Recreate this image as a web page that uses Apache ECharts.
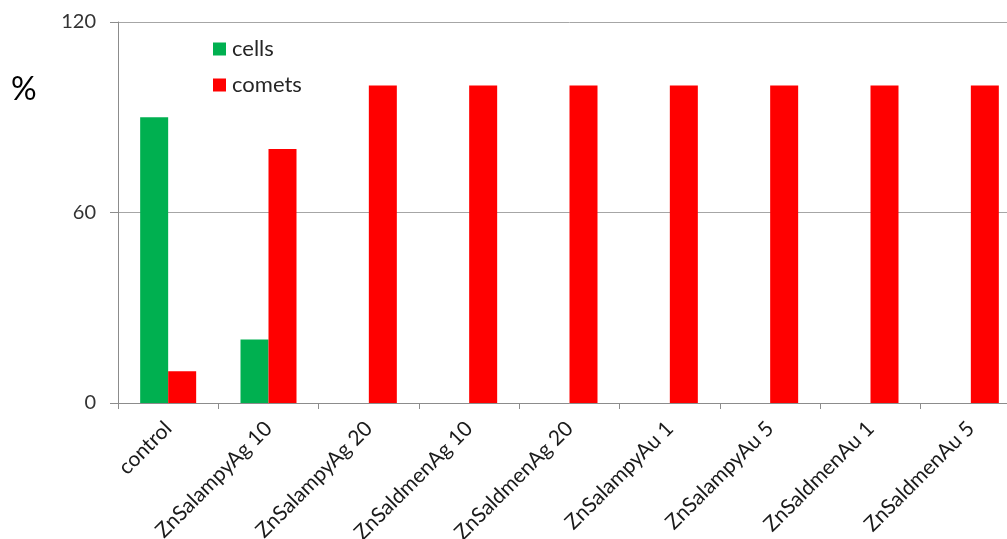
<!DOCTYPE html>
<html>
<head>
<meta charset="utf-8">
<script src="https://cdn.jsdelivr.net/npm/echarts@6/dist/echarts.min.js"></script>
<style>
  html, body { margin: 0; padding: 0; background: #ffffff; overflow: hidden; }
  /* the plot runs slightly past the right edge of the window */
  #chart { width: 1021px; height: 539px; }
</style>
</head>
<body>
<div id="chart"></div>
<script>
// Treatment groups along the x axis
const categories = [
  'control', 'ZnSalampyAg 10', 'ZnSalampyAg 20', 'ZnSaldmenAg 10',
  'ZnSaldmenAg 20', 'ZnSalampyAu 1', 'ZnSalampyAu 5', 'ZnSaldmenAu 1', 'ZnSaldmenAu 5'
];
// Share of intact cells and of comets, in percent
const cells  = [90, 20, 0, 0, 0, 0, 0, 0, 0];
const comets = [10, 80, 100, 100, 100, 100, 100, 100, 100];
const yTicks = [0, 60, 120];

const axisGray = '#8c8c8c';
const fontFamily = 'Lato, "Open Sans", sans-serif';

const chart = echarts.init(document.getElementById('chart'), null, { renderer: 'canvas' });
chart.setOption({
  animation: false,
  backgroundColor: '#ffffff',
  grid: {
    left: 118, right: 0, top: 22, bottom: 136,
    containLabel: false, outerBoundsMode: 'none'
  },
  graphic: [{
    type: 'text', left: 11, top: 74,
    style: { text: '%', font: '32px ' + fontFamily, fill: '#000000' }
  }],
  legend: {
    orient: 'vertical', left: 208, top: 33,
    itemWidth: 13, itemHeight: 13, itemGap: 14,
    icon: 'rect',
    textStyle: { fontFamily, fontSize: 22, color: '#262626', padding: [0, 0, 0, 1] },
    data: ['cells', 'comets']
  },
  xAxis: {
    type: 'category',
    data: categories,
    axisLine: { lineStyle: { color: axisGray, width: 1 } },
    axisTick: { show: true, length: 6, lineStyle: { color: axisGray } },
    axisLabel: {
      interval: 0, rotate: 45, margin: 22,
      fontFamily, fontSize: 21, color: '#1a1a1a'
    }
  },
  yAxis: {
    type: 'value',
    min: yTicks[0], max: yTicks[yTicks.length - 1], interval: 60,
    axisLine: { show: true, lineStyle: { color: axisGray, width: 1 } },
    axisTick: { show: true, length: 8, lineStyle: { color: axisGray } },
    splitLine: { show: true, lineStyle: { color: '#a6a6a6', width: 1 } },
    axisLabel: { margin: 22, fontFamily, fontSize: 20, color: '#333333' }
  },
  series: [
    {
      name: 'cells', type: 'bar', data: cells,
      barWidth: 28, barGap: '0%',
      itemStyle: { color: '#00b050' }
    },
    {
      name: 'comets', type: 'bar', data: comets,
      barWidth: 28, barGap: '0%',
      itemStyle: { color: '#ff0000' }
    }
  ]
});
</script>
</body>
</html>
